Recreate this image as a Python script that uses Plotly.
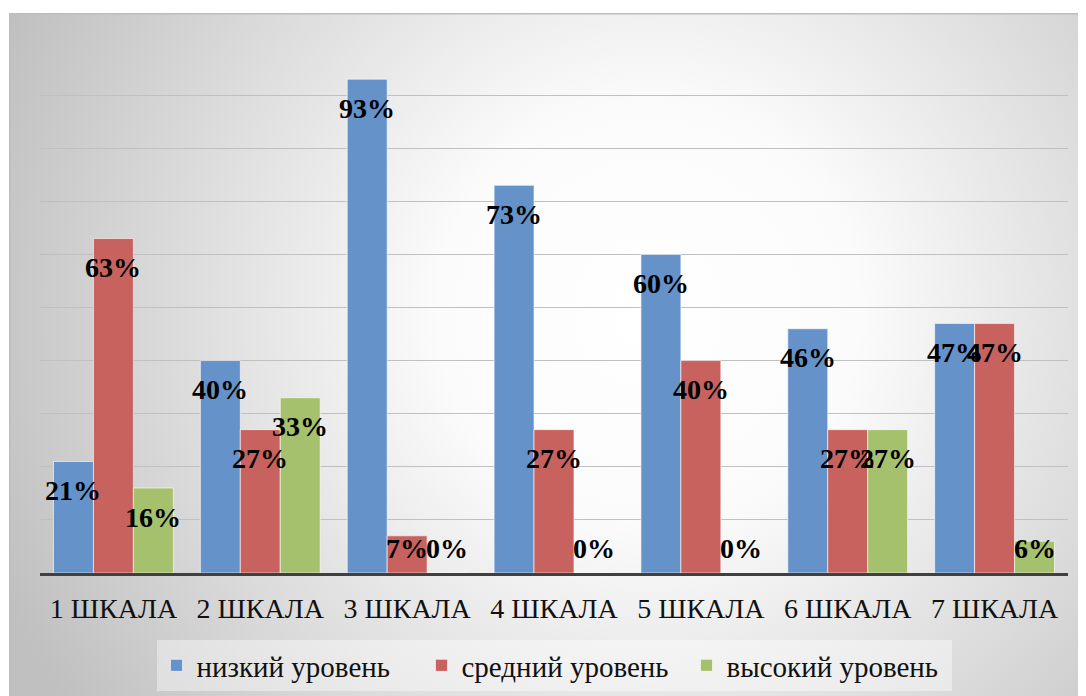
import base64
import plotly.graph_objects as go

categories = ["1 ШКАЛА", "2 ШКАЛА", "3 ШКАЛА", "4 ШКАЛА", "5 ШКАЛА", "6 ШКАЛА", "7 ШКАЛА"]
low = [0.21, 0.40, 0.93, 0.73, 0.60, 0.46, 0.47]
mid = [0.63, 0.27, 0.07, 0.27, 0.40, 0.27, 0.47]
high = [0.16, 0.33, 0.00, 0.00, 0.00, 0.27, 0.06]
series_names = ["низкий уровень", "средний уровень", "высокий уровень"]
colors = ["#6592C8", "#C8625F", "#A6C16E"]

SERIF = "Liberation Serif, Times New Roman, DejaVu Serif, serif"
# page body has an 8px margin: the figure starts at page (8, 8)
W, H = 1078, 688
L, R, T, B = 32, 18, 34, 123
plot_w = W - L - R
plot_h = H - T - B

svg = f'''<svg xmlns="http://www.w3.org/2000/svg" width="1077" height="683" viewBox="0 0 1077 683">
<defs><radialGradient id="g" gradientUnits="userSpaceOnUse" cx="640" cy="300" r="700">
<stop offset="0" stop-color="#ffffff"/><stop offset="0.3" stop-color="#fbfbfb"/>
<stop offset="1" stop-color="#c0c0c0"/></radialGradient></defs>
<rect x="0.75" y="0.75" width="1077" height="683" fill="url(#g)" stroke="#bdbdbd" stroke-width="1.5"/>
</svg>'''
src = "data:image/svg+xml;base64," + base64.b64encode(svg.encode()).decode()

bargap = 0.184
w = (1 - bargap) / 3

fig = go.Figure()
for name, vals, col in zip(series_names, [low, mid, high], colors):
    fig.add_trace(go.Bar(
        x=categories, y=vals, name=name,
        marker=dict(color=col, line=dict(color="rgba(255,255,255,0.6)", width=1)),
        hoverinfo="skip",
    ))

font_lbl = dict(family=SERIF, size=28, color="black")
off_px = 29 / plot_h
min_px = 25 / plot_h
annotations = []
for j, vals in enumerate([low, mid, high]):
    for i, v in enumerate(vals):
        annotations.append(dict(
            x=i + (j - 1) * w, y=max(v - off_px, min_px), xref="x", yref="y",
            text=f"<b>{round(v*100)}%</b>", showarrow=False,
            font=font_lbl, xanchor="center", yanchor="middle",
        ))

fig.update_layout(
    width=W, height=H,
    font=dict(family=SERIF, color="#111"),
    margin=dict(l=L, r=R, t=T, b=B, autoexpand=False),
    paper_bgcolor="white", plot_bgcolor="rgba(0,0,0,0)",
    barmode="group", bargap=bargap, bargroupgap=0,
    images=[dict(source=src, xref="paper", yref="paper",
                 x=(1 - L) / plot_w, y=(H - B - 5) / plot_h,
                 sizex=(W - 1) / plot_w, sizey=(H - 5) / plot_h,
                 xanchor="left", yanchor="top", sizing="stretch", layer="below")],
    xaxis=dict(showline=True, linecolor="#404040", linewidth=3, ticks="",
               tickfont=dict(family=SERIF, size=28, color="#111"),
               ticklabelstandoff=8, showgrid=False, automargin=False),
    yaxis=dict(range=[0, 1], dtick=0.1, showticklabels=False, showgrid=True,
               gridcolor="#c0c0c0", gridwidth=1.3, zeroline=False, automargin=False),
    legend=dict(orientation="h", x=0.5, xanchor="center", y=(H - B - 632) / plot_h,
                yanchor="top", bgcolor="rgba(255,255,255,0.4)",
                font=dict(family=SERIF, size=29, color="#111"),
                entrywidth=220, itemwidth=30),
    annotations=annotations,
    showlegend=True,
)

fig.write_html("out.html")
